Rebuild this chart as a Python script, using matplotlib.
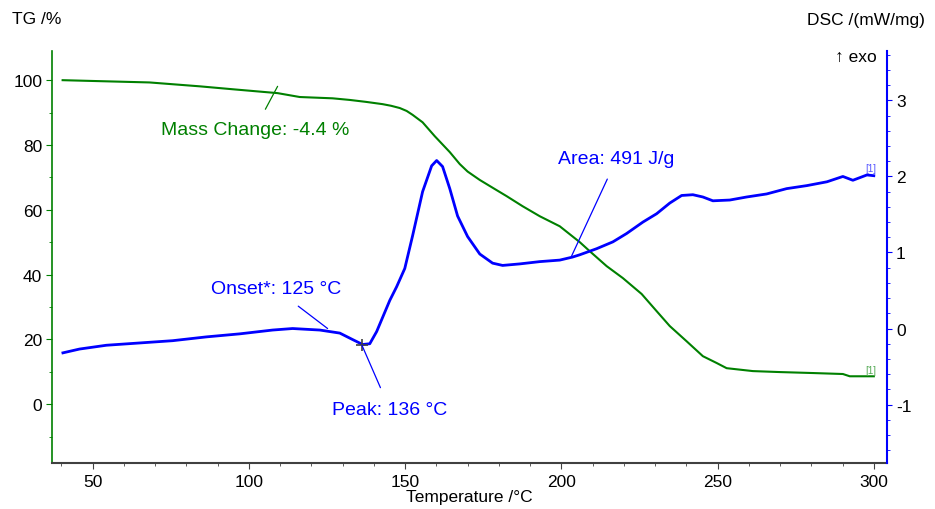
#script for TG / DSC curve plot

import numpy as np
import matplotlib
matplotlib.use('Agg')
import matplotlib.pyplot as plt
from matplotlib.ticker import MultipleLocator

plt.rcParams['font.family'] = ['Liberation Sans', 'DejaVu Sans']
plt.rcParams['axes.unicode_minus'] = False

# TG curve (mass, %)
tg_temp = [40.4, 52.2, 68.2, 84.3, 94.8, 109.2, 116.3, 126.8, 132.3, 137.5, 142.8, 145.5,
           148.3, 150.5, 152.4, 155.6, 159.5, 164.3, 167.5, 170.0, 173.9, 178.7, 182.5, 187.6,
           193.1, 199.5, 205.9, 209.1, 214.5, 219.7, 225.7, 230.5, 234.7, 240.1,
           245.3, 249.7, 252.9, 261.3, 269.9, 280.5, 290.1, 292.3, 300.0]
tg_mass = [100.0, 99.7, 99.3, 98.1, 97.2, 96.0, 94.8, 94.4, 93.9, 93.3, 92.6, 92.1,
           91.4, 90.5, 89.3, 87.0, 82.7, 77.8, 74.1, 71.8, 69.2, 66.4, 64.2, 61.1,
           58.0, 54.9, 50.0, 47.2, 42.6, 38.9, 34.0, 28.7, 24.1, 19.4,
           14.8, 12.7, 11.1, 10.2, 9.9, 9.6, 9.3, 8.6, 8.6]

# DSC curve (mW/mg)
dsc_temp = [40.5, 45.8, 54.4, 65.0, 75.6, 86.4, 97.1, 107.6, 114.0, 122.7, 129.1,
            133.2, 136.4, 138.7, 140.9, 145.1, 147.3, 149.9, 152.4, 155.6, 158.5,
            160.1, 162.0, 164.3, 166.8, 170.0, 173.9, 178.0, 181.2, 186.7, 193.1,
            199.5, 203.6, 205.9, 211.3, 216.5, 220.9, 226.1, 230.5, 234.7, 238.5,
            242.1, 245.3, 248.5, 253.9, 259.3, 265.7, 272.1, 278.6, 285.0, 290.1,
            293.3, 297.8, 300.0]
dsc_val = [-0.32, -0.27, -0.22, -0.19, -0.16, -0.11, -0.07, -0.02, 0.0, -0.02, -0.06,
           -0.145, -0.21, -0.20, -0.04, 0.37, 0.55, 0.79, 1.22, 1.80, 2.14,
           2.21, 2.13, 1.84, 1.48, 1.21, 0.98, 0.86, 0.83, 0.85, 0.88,
           0.90, 0.94, 0.97, 1.05, 1.14, 1.25, 1.40, 1.51, 1.65, 1.75,
           1.76, 1.73, 1.68, 1.69, 1.73, 1.77, 1.84, 1.88, 1.93, 2.0,
           1.95, 2.02, 2.01]

green = '#008000'
blue = '#0000ff'

fig = plt.figure(figsize=(9.35, 5.1), dpi=100)
ax = fig.add_axes([0.0556, 0.090, 0.893, 0.808])
ax2 = ax.twinx()

ax.plot(tg_temp, tg_mass, color=green, linewidth=1.5)
ax2.plot(dsc_temp, dsc_val, color=blue, linewidth=2.0)

ax.set_xlim(37, 304.2)
ax.set_ylim(-18.2, 109)
ax2.set_ylim(-1.77, 3.65)

ax.xaxis.set_major_locator(MultipleLocator(50))
ax.xaxis.set_minor_locator(MultipleLocator(10))
ax.yaxis.set_major_locator(MultipleLocator(20))
ax.yaxis.set_minor_locator(MultipleLocator(10))
ax2.yaxis.set_major_locator(MultipleLocator(1))
ax2.yaxis.set_minor_locator(MultipleLocator(0.2))

for s in ['top', 'right']:
    ax.spines[s].set_visible(False)
for s in ['top', 'left', 'bottom']:
    ax2.spines[s].set_visible(False)
ax.spines['left'].set_color(green)
ax.spines['left'].set_linewidth(1.2)
ax.spines['bottom'].set_color('#404040')
ax.spines['bottom'].set_linewidth(1.5)
ax2.spines['right'].set_color(blue)
ax2.spines['right'].set_linewidth(1.5)

ax.tick_params(axis='y', which='both', colors=green, labelcolor='black', labelsize=12.5, pad=3)
ax.tick_params(axis='y', which='major', length=4)
ax.tick_params(axis='y', which='minor', length=2.5)
ax.tick_params(axis='x', which='both', colors='#404040', labelcolor='black', labelsize=12.5, pad=4)
ax.tick_params(axis='x', which='major', length=4)
ax.tick_params(axis='x', which='minor', length=2.5)
ax2.tick_params(axis='y', which='both', colors=blue, labelcolor='black', labelsize=12.5, pad=3)
ax2.tick_params(axis='y', which='major', length=3.5)
ax2.tick_params(axis='y', which='minor', length=2.5)

ax.set_xlabel('Temperature /°C', fontsize=12.5, labelpad=0)

fig.text(12/935, 1 - 20/510, 'TG /%', fontsize=12.5, ha='left', va='center')
fig.text(925/935, 1 - 20/510, 'DSC /(mW/mg)', fontsize=12.5, ha='right', va='center')
fig.text(877/935, 1 - 57/510, '↑ exo', fontsize=12.5, ha='right', va='center')

# annotations
ax.annotate('Mass Change: -4.4 %', xy=(109.2, 98.1), xytext=(101.9, 84.9),
            color=green, fontsize=14, ha='center', va='center',
            arrowprops=dict(arrowstyle='-', color=green, lw=0.9, shrinkA=7, shrinkB=0))
ax2.annotate('Onset*: 125 °C', xy=(125.2, 0.0), xytext=(108.6, 0.52),
             color=blue, fontsize=14, ha='center', va='center',
             arrowprops=dict(arrowstyle='-', color=blue, lw=0.9, shrinkA=7, shrinkB=0))
ax2.annotate('Peak: 136 °C', xy=(136.2, -0.22), xytext=(145.1, -1.06),
             color=blue, fontsize=14, ha='center', va='center',
             arrowprops=dict(arrowstyle='-', color=blue, lw=0.9, shrinkA=8, shrinkB=0))
ax2.annotate('Area: 491 J/g', xy=(203.3, 0.955), xytext=(217.7, 2.23),
             color=blue, fontsize=14, ha='center', va='center',
             arrowprops=dict(arrowstyle='-', color=blue, lw=0.9, shrinkA=7, shrinkB=0))
ax2.plot([136.2], [-0.22], marker='+', color='#404040', markersize=8, markeredgewidth=1.2)

ax.text(299, 9.0, '[1]', color='#55aa55', fontsize=7, ha='center', va='bottom')
ax2.text(299, 2.05, '[1]', color='#5555ff', fontsize=7, ha='center', va='bottom')

fig.savefig('out.png', dpi=100)
